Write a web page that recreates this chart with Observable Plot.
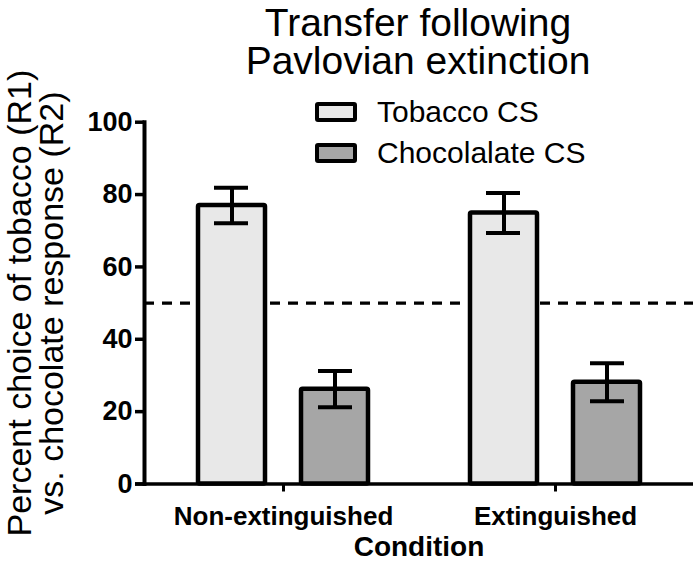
<!DOCTYPE html>
<html>
<head>
<meta charset="utf-8">
<script src="https://cdn.jsdelivr.net/npm/d3@7"></script>
<script src="https://cdn.jsdelivr.net/npm/@observablehq/plot@0.6"></script>
<style>
  html, body { margin: 0; padding: 0; background: #fff; }
  #wrap { position: relative; width: 693px; height: 574px; font-family: "Liberation Sans", Arial, sans-serif; color: #000; overflow: hidden; }
  #title { position: absolute; left: 218px; width: 400px; top: 4px; text-align: center; font-size: 39px; }
  #title div { height: 38px; line-height: 38px; }
  #legend { position: absolute; left: 315px; top: 101px; font-size: 30px; }
  .item { display: flex; align-items: center; height: 21px; margin-bottom: 20px; }
  .sw { width: 34px; height: 12px; border: 4.5px solid #000; border-radius: 3px; margin-right: 20px; }
  svg { position: absolute; left: 0; top: 0; overflow: visible; }
</style>
</head>
<body>
<div id="wrap">
  <div id="title"></div>
  <div id="legend"></div>
</div>
<script>
// ---- data ----
const titleLines = ["Transfer following", "Pavlovian extinction"];
const conditions = ["Non-extinguished", "Extinguished"];
const seriesNames = ["Tobacco CS", "Chocolalate CS"];
const tobaccoMeans = [77.0, 74.9];
const tobaccoErrors = [4.9, 5.5];
const chocolateMeans = [26.2, 28.1];
const chocolateErrors = [5.0, 5.25];
const yTicks = [0, 20, 40, 60, 80, 100];
const chanceLevel = [50];
const yLabel = ["Percent choice of tobacco (R1)\nvs. chocolate response (R2)"];
const xLabel = ["Condition"];

// ---- styles ----
const fills = ["#e8e8e8", "#a6a6a6"];

const tob = conditions.map((c, i) => ({condition: c, series: seriesNames[0], mean: tobaccoMeans[i], lo: tobaccoMeans[i] - tobaccoErrors[i], hi: tobaccoMeans[i] + tobaccoErrors[i]}));
const choc = conditions.map((c, i) => ({condition: c, series: seriesNames[1], mean: chocolateMeans[i], lo: chocolateMeans[i] - chocolateErrors[i], hi: chocolateMeans[i] + chocolateErrors[i]}));

const title = document.getElementById("title");
titleLines.forEach(line => {
  const d = document.createElement("div");
  d.textContent = line;
  title.appendChild(d);
});
const legend = document.getElementById("legend");
seriesNames.forEach((s, i) => {
  const it = document.createElement("div");
  it.className = "item";
  const sw = document.createElement("div");
  sw.className = "sw";
  sw.style.background = fills[i];
  const t = document.createElement("span");
  t.textContent = s;
  it.appendChild(sw); it.appendChild(t);
  legend.appendChild(it);
});

const chart = Plot.plot({
  width: 693,
  height: 574,
  marginTop: 121.7,
  marginBottom: 90.5,
  marginLeft: 144,
  marginRight: 0,
  style: {fontFamily: "'Liberation Sans', Arial, sans-serif", color: "#000", background: "transparent", fontWeight: "bold"},
  x: {domain: conditions, paddingInner: 0.376, paddingOuter: 0.195},
  y: {domain: [0, 100]},
  marks: [
    Plot.ruleY(chanceLevel, {stroke: "#000", strokeWidth: 3.2, strokeDasharray: "10,8"}),
    Plot.barY(tob, {x: "condition", y: "mean", fill: fills[0], stroke: "#000", strokeWidth: 4.5, insetRight: 103, rx: 1.5}),
    Plot.barY(choc, {x: "condition", y: "mean", fill: fills[1], stroke: "#000", strokeWidth: 4.5, insetLeft: 103, rx: 1.5}),
    Plot.ruleX(tob, {x: "condition", y1: "lo", y2: "hi", dx: -51.5, stroke: "#000", strokeWidth: 4}),
    Plot.ruleX(choc, {x: "condition", y1: "lo", y2: "hi", dx: 51.5, stroke: "#000", strokeWidth: 4}),
    Plot.tickY(tob, {x: "condition", y: "hi", insetLeft: 16, insetRight: 120, stroke: "#000", strokeWidth: 4}),
    Plot.tickY(tob, {x: "condition", y: "lo", insetLeft: 16, insetRight: 120, stroke: "#000", strokeWidth: 4}),
    Plot.tickY(choc, {x: "condition", y: "hi", insetLeft: 120, insetRight: 16, stroke: "#000", strokeWidth: 4}),
    Plot.tickY(choc, {x: "condition", y: "lo", insetLeft: 120, insetRight: 16, stroke: "#000", strokeWidth: 4}),
    Plot.ruleY([0], {stroke: "#000", strokeWidth: 3.5, insetLeft: -9}),
    Plot.frame({anchor: "left", stroke: "#000", strokeWidth: 4}),
    Plot.axisY({ticks: yTicks, tickSize: 9, tickPadding: 3, strokeWidth: 3.5, fontSize: 27, fontWeight: "bold", label: null}),
    Plot.axisX({tickSize: 8, tickPadding: 15, strokeWidth: 3, fontSize: 26, fontWeight: "bold", label: null}),
    Plot.text(yLabel, {text: d => d, frameAnchor: "left", textAnchor: "middle", rotate: -90, dx: -108, fontSize: 34, fontWeight: "normal", lineHeight: 0.95, lineAnchor: "middle"}),
    Plot.text(xLabel, {text: d => d, frameAnchor: "bottom", dy: 72, fontSize: 28, fontWeight: "bold"})
  ]
});
document.getElementById("wrap").insertBefore(chart, document.getElementById("title"));
</script>
</body>
</html>
